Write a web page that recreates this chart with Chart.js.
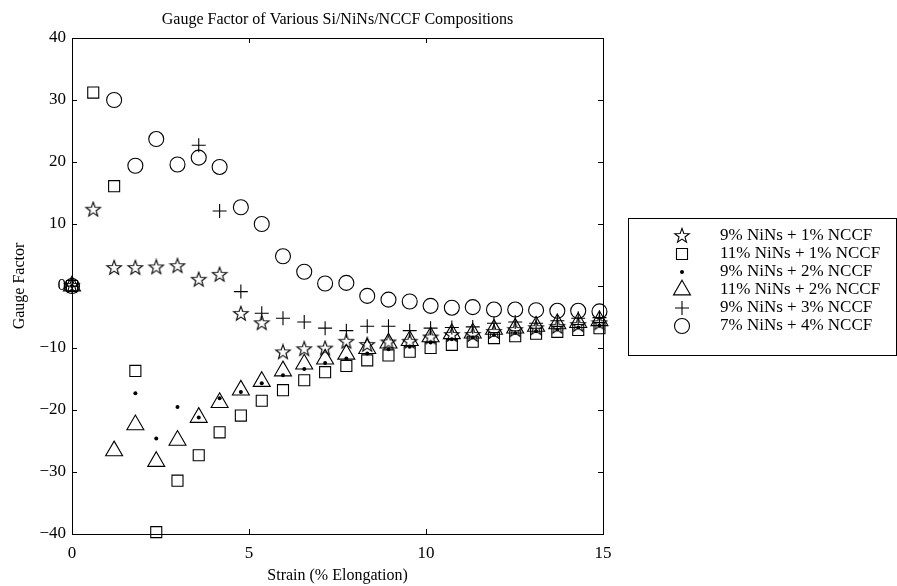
<!DOCTYPE html>
<html>
<head>
<meta charset="utf-8">
<title>Gauge Factor of Various Si/NiNs/NCCF Compositions</title>
<script src="https://cdn.jsdelivr.net/npm/chart.js@4.4.1/dist/chart.umd.min.js"></script>
<style>
  html, body { margin: 0; padding: 0; background: #fff; }
  #wrap { width: 897px; height: 586px; }
</style>
</head>
<body>
<div id="wrap"><canvas id="chart" width="897" height="586"></canvas></div>
<script>
// Strain (% elongation) of each measurement
const strain = [0, 0.6, 1.19, 1.79, 2.38, 2.98, 3.58, 4.17, 4.77, 5.36, 5.96, 6.56, 7.15,
  7.75, 8.34, 8.94, 9.54, 10.13, 10.73, 11.32, 11.92, 12.52, 13.11, 13.71, 14.3, 14.9];

// Gauge factor per composition, null where no point is shown
const ni9cf1 = [0, 12.3, 2.9, 2.9, 3.0, 3.2, 1.0, 1.8, -4.5, -6.0, -10.7, -10.2, -10.1,
  -9.0, -9.5, -9.1, -9.0, -8.3, -7.9, -7.9, -7.4, -7.1, -6.8, -6.6, -6.3, -6.0];
const ni11cf1 = [0, 31.2, 16.1, -13.7, -39.7, -31.4, -27.3, -23.6, -20.9, -18.5, -16.8, -15.2, -13.9,
  -12.9, -12.0, -11.2, -10.6, -10.0, -9.5, -9.0, -8.4, -8.1, -7.7, -7.4, -7.1, -6.8];
const ni9cf2 = [0, null, null, -17.3, -24.6, -19.5, -21.2, -18.1, -17.1, -15.7, -14.4, -13.4, -12.4,
  -11.7, -10.9, -10.2, -9.8, -9.1, -8.6, -8.3, -7.9, -7.6, -7.3, -7.0, -6.7, -6.4];
const ni11cf2 = [0, null, -26.6, -22.4, -28.3, -24.9, -21.2, -18.8, -16.8, -15.4, -13.7, -12.6, -11.8,
  -11.0, -10.1, -9.2, -8.8, -8.2, -7.7, -7.6, -7.0, -6.8, -6.5, -6.1, -5.9, -5.6];
const ni9cf3 = [0, null, null, null, null, null, 22.7, 12.1, -0.9, -4.4, -5.2, -5.8, -6.8,
  -7.2, -6.5, -6.5, -7.2, -6.8, -6.7, -6.6, -6.0, -5.8, -6.0, -5.6, -5.2, -5.1];
const ni7cf4 = [0, null, 30.0, 19.4, 23.7, 19.6, 20.7, 19.2, 12.7, 10.0, 4.8, 2.3, 0.4,
  0.5, -1.6, -2.2, -2.5, -3.2, -3.5, -3.4, -3.8, -3.8, -3.9, -4.0, -4.0, -4.1];

const labels = [
  "9% NiNs + 1% NCCF",
  "11% NiNs + 1% NCCF",
  "9% NiNs + 2% NCCF",
  "11% NiNs + 2% NCCF",
  "9% NiNs + 3% NCCF",
  "7% NiNs + 4% NCCF",
];

const xTicks = [0, 5, 10, 15];
const yTicks = [-40, -30, -20, -10, 0, 10, 20, 30, 40];

const FONT = "'Liberation Serif', 'Times New Roman', serif";

// hollow five point star, Chart.js has only an asterisk
const makeStar = () => {
  const c = document.createElement("canvas");
  c.width = 18;
  c.height = 18;
  const g = c.getContext("2d");
  g.translate(9, 9);
  g.beginPath();
  for (let i = 0; i < 10; i++) {
    const r = i % 2 === 0 ? 7.6 : 3.1;
    const a = -Math.PI / 2 + (i * Math.PI) / 5;
    const px = Math.cos(a) * r;
    const py = Math.sin(a) * r;
    if (i === 0) g.moveTo(px, py);
    else g.lineTo(px, py);
  }
  g.closePath();
  g.lineWidth = 1.1;
  g.strokeStyle = "#000";
  g.stroke();
  return c;
};

const toPoints = (ys) =>
  strain.map((x, i) => ({ x, y: ys[i] })).filter((p) => p.y !== null);

const hollow = "rgba(0,0,0,0)";
const styles = [
  { pointStyle: makeStar(), pointRadius: 8, pointBackgroundColor: hollow },
  { pointStyle: "rect", pointRadius: 7.8, pointBackgroundColor: hollow },
  { pointStyle: "circle", pointRadius: 2, pointBackgroundColor: "#000", pointBorderWidth: 0 },
  { pointStyle: "triangle", pointRadius: 9.8, pointBackgroundColor: hollow },
  { pointStyle: "cross", pointRadius: 7, pointBackgroundColor: hollow },
  { pointStyle: "circle", pointRadius: 7.5, pointBackgroundColor: hollow },
];

const series = [ni9cf1, ni11cf1, ni9cf2, ni11cf2, ni9cf3, ni7cf4];

const datasets = series.map((ys, i) => ({
  label: labels[i],
  data: toPoints(ys),
  showLine: false,
  clip: false,
  pointBorderColor: "#000",
  pointBorderWidth: 1.1,
  ...styles[i],
}));

// box, inward ticks, title and legend like the original figure
const frame = {
  id: "frame",
  beforeDatasetsDraw(chart) {
    const { ctx, chartArea: a, scales } = chart;
    ctx.save();
    ctx.strokeStyle = "#000";
    ctx.lineWidth = 1;
    ctx.strokeRect(Math.round(a.left) + 0.5, Math.round(a.top) + 0.5,
      Math.round(a.right - a.left), Math.round(a.bottom - a.top));
    ctx.beginPath();
    xTicks.forEach((v) => {
      const px = Math.round(scales.x.getPixelForValue(v)) + 0.5;
      ctx.moveTo(px, a.bottom);
      ctx.lineTo(px, a.bottom - 5);
      ctx.moveTo(px, a.top);
      ctx.lineTo(px, a.top + 5);
    });
    yTicks.forEach((v) => {
      const py = Math.round(scales.y.getPixelForValue(v)) + 0.5;
      ctx.moveTo(a.left, py);
      ctx.lineTo(a.left + 5, py);
      ctx.moveTo(a.right, py);
      ctx.lineTo(a.right - 5, py);
    });
    ctx.stroke();
    ctx.restore();
  },
  afterDraw(chart) {
    const { ctx, chartArea: a } = chart;
    ctx.save();
    ctx.fillStyle = "#000";
    ctx.font = "16px " + FONT;
    ctx.textAlign = "center";
    ctx.textBaseline = "middle";
    ctx.fillText("Gauge Factor of Various Si/NiNs/NCCF Compositions", (a.left + a.right) / 2, 20);

    // legend
    const box = { left: 628, top: 218, right: 896, bottom: 355 };
    ctx.strokeStyle = "#000";
    ctx.lineWidth = 1;
    ctx.strokeRect(box.left + 0.5, box.top + 0.5, box.right - box.left, box.bottom - box.top);
    ctx.font = "17px " + FONT;
    ctx.textAlign = "left";
    datasets.forEach((ds, i) => {
      const y = 236 + i * 18;
      ctx.fillStyle = ds.pointBackgroundColor;
      ctx.strokeStyle = "#000";
      ctx.lineWidth = 1.1;
      Chart.helpers.drawPoint(ctx, {
        pointStyle: ds.pointStyle,
        radius: ds.pointRadius,
        borderWidth: ds.pointBorderWidth,
        rotation: 0,
      }, 682, y);
      ctx.fillStyle = "#000";
      ctx.fillText(ds.label, 720, y);
    });
    ctx.restore();
  },
};

const fmt = (v) => (v < 0 ? "\u2212" + Math.abs(v) : String(v));

new Chart(document.getElementById("chart"), {
  type: "scatter",
  data: { datasets },
  plugins: [frame],
  options: {
    responsive: false,
    animation: false,
    devicePixelRatio: 1,
    events: [],
    layout: { padding: { left: 0, right: 294, top: 38, bottom: 0 } },
    plugins: {
      legend: { display: false },
      title: { display: false },
      tooltip: { enabled: false },
    },
    scales: {
      x: {
        type: "linear",
        min: 0,
        max: 15,
        afterBuildTicks: (s) => { s.ticks = xTicks.map((value) => ({ value })); },
        afterFit: (s) => { s.height = 52; },
        grid: { display: false, drawTicks: false },
        border: { display: false },
        ticks: { color: "#000", padding: 9, font: { family: FONT, size: 17 }, maxRotation: 0 },
        title: {
          display: true,
          text: "Strain (% Elongation)",
          color: "#000",
          font: { family: FONT, size: 16 },
          padding: { top: 0, bottom: 1 },
        },
      },
      y: {
        type: "linear",
        min: -40,
        max: 40,
        afterBuildTicks: (s) => { s.ticks = yTicks.map((value) => ({ value })); },
        afterFit: (s) => { s.width = 72; },
        grid: { display: false, drawTicks: false },
        border: { display: false },
        ticks: { color: "#000", padding: 6, font: { family: FONT, size: 17 }, callback: fmt },
        title: {
          display: true,
          text: "Gauge Factor",
          color: "#000",
          font: { family: FONT, size: 16 },
          padding: 10,
        },
      },
    },
  },
});
</script>
</body>
</html>
